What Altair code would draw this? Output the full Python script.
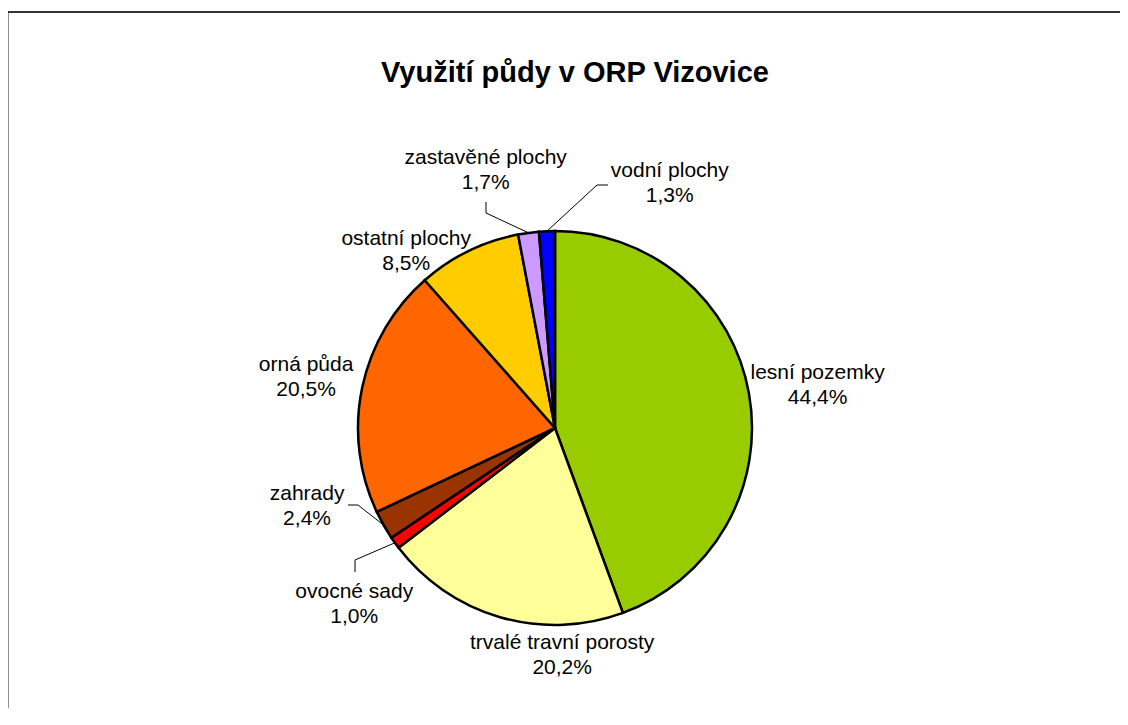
import math
import altair as alt
import pandas as pd

# ---------------- data ----------------
categories = ["lesní pozemky", "trvalé travní porosty", "ovocné sady", "zahrady",
              "orná půda", "ostatní plochy", "zastavěné plochy", "vodní plochy"]
shares = [44.4, 20.2, 1.0, 2.4, 20.5, 8.5, 1.7, 1.3]
colors = ["#99CC00", "#FFFF99", "#FF0000", "#993300",
          "#FF6600", "#FFCC00", "#CC99FF", "#0000FF"]
title_text = "Využití půdy v ORP Vizovice"

# ---------------- layout ----------------
PAD = 12
W, H = 1100, 688
CX, CY, R = 535, 408, 197
FONT = "Liberation Sans"
label_shift_deg = [0.9, -18.0, -5.6, 12.0, -0.2, -14.0, -7.3, 27.5]
label_radius = [266, 228, 267, 260, 254, 231, 267, 270]
# leader lines: (label end point, bend point) per small slice
leaders = {
    "zastavěné plochy": [(466, 182), (466, 193)],
    "vodní plochy": [(588, 165), (577, 165)],
    "zahrady": [(328, 485), (338, 485)],
    "ovocné sady": [(335, 552), (335, 540)],
}

def pct(v):
    return f"{v:.1f}".replace(".", ",") + "%"

cum = 0.0
mids = []
for s in shares:
    mids.append(cum + s / 2)
    cum += s

df = pd.DataFrame({
    "category": categories,
    "share": shares,
    "idx": list(range(len(categories))),
    "label": [f"{c}\n{pct(s)}" for c, s in zip(categories, shares)],
    "label_pos": [(m + d / 3.6) % 100 for m, d in zip(mids, label_shift_deg)],
    "label_r": label_radius,
})

rows = []
for cat, pts in leaders.items():
    i = categories.index(cat)
    a = mids[i] / 100 * 2 * math.pi
    edge = (CX + R * math.sin(a), CY - R * math.cos(a))
    for k, (px, py) in enumerate(list(pts) + [edge]):
        rows.append({"category": cat, "seq": k, "px": px, "py": py})
lines_df = pd.DataFrame(rows)

theta_scale = alt.Scale(domain=[0, 100], range=[0, 2 * math.pi])

pie = alt.Chart(df).mark_arc(outerRadius=R, stroke="black", strokeWidth=2.5).encode(
    theta=alt.Theta("share:Q", stack=True, scale=theta_scale),
    color=alt.Color("category:N", scale=alt.Scale(domain=categories, range=colors), legend=None),
    order=alt.Order("idx:Q"),
    x=alt.value(CX),
    y=alt.value(CY),
)

labels = alt.Chart(df).mark_text(
    font=FONT, fontSize=21, color="black", align="center", baseline="middle",
    lineBreak="\n", lineHeight=25, dy=-12.5,
).encode(
    theta=alt.Theta("label_pos:Q", stack=False, scale=theta_scale),
    radius=alt.Radius("label_r:Q", scale=None),
    text="label:N",
    x=alt.value(CX),
    y=alt.value(CY),
)

leader_lines = alt.Chart(lines_df).mark_line(color="black", strokeWidth=1).encode(
    x=alt.X("px:Q", scale=None, axis=None),
    y=alt.Y("py:Q", scale=None, axis=None),
    detail="category:N",
    order="seq:Q",
)

tdf = pd.DataFrame({"t": [title_text]})
title = alt.Chart(tdf).mark_text(
    font=FONT, fontSize=29, fontWeight="bold", color="black", align="center", baseline="middle"
).encode(text="t:N", x=alt.value(555), y=alt.value(53))

frame_top = alt.Chart(tdf).mark_rule(color="#333333", strokeWidth=2).encode(
    x=alt.value(-12.5), x2=alt.value(W), y=alt.value(-8)
)
frame_left = alt.Chart(tdf).mark_rule(color="#222222", strokeWidth=2).encode(
    x=alt.value(-12.5), y=alt.value(-8), y2=alt.value(H)
)

chart = alt.layer(frame_top, frame_left, pie, leader_lines, labels, title).properties(
    width=W, height=H,
    autosize=alt.AutoSizeParams(type="none"),
    padding={"left": PAD, "top": PAD, "right": 0, "bottom": 0},
    background="white",
).configure_view(stroke=None)

chart.save("out.html", embed_options={"renderer": "svg", "actions": False})
